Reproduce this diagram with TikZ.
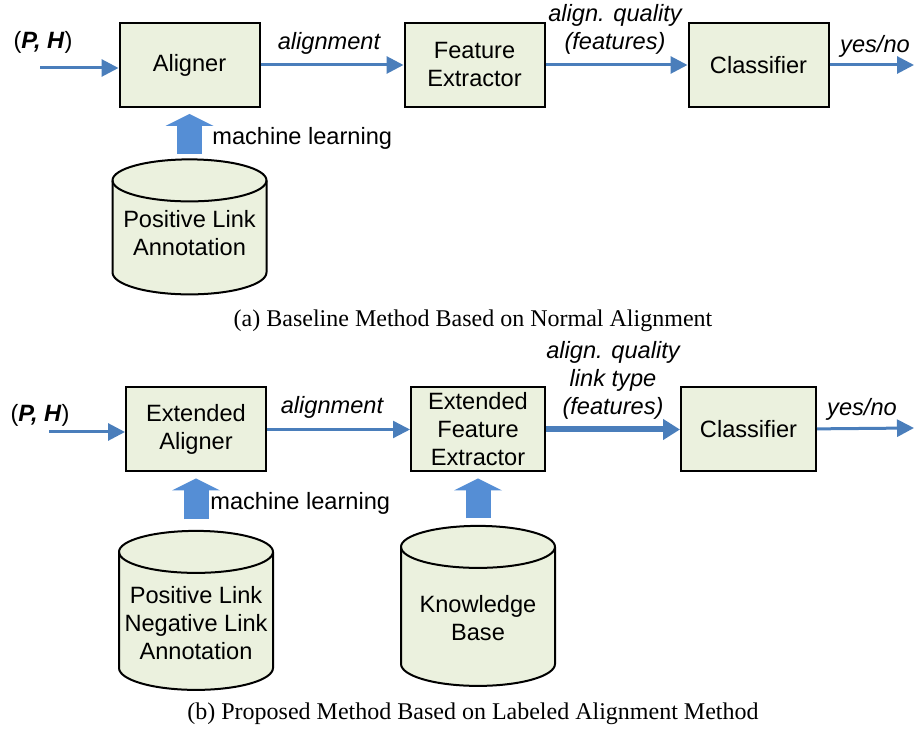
\documentclass[tikz,border=0pt]{standalone}
\usepackage{fontspec}
\setmainfont{Liberation Sans}
\newfontfamily\capfont{Liberation Serif}
\usetikzlibrary{arrows.meta,shapes,positioning,calc}
\definecolor{boxgreen}{HTML}{EBF1DE}
\definecolor{flowblue}{HTML}{4A7EBB}
\definecolor{fatblue}{HTML}{558ED5}
\tikzset{
    block/.style={draw, line width=1pt, fill=boxgreen, minimum width=70pt, minimum height=42pt, align=center, inner sep=1pt},
    db/.style 2 args={minimum width=80pt, minimum height=#1, inner sep=0pt, align=center, fill=white,
        path picture={
            \coordinate (nw) at ($(path picture bounding box.north west)+(1.5pt,-1pt)$);
            \coordinate (se) at ($(path picture bounding box.south east)+(-1.5pt,#2)$);
            \filldraw[line width=1pt, fill=boxgreen] ($(nw)+(0,-10.5pt)$) -- ($(nw |- se)+(0,11pt)$)
                arc[start angle=180, end angle=360, x radius=38.5pt, y radius=11pt]
                -- ($(se |- nw)+(0,-10.5pt)$)
                arc[start angle=0, end angle=180, x radius=38.5pt, y radius=10.5pt] -- cycle;
            \draw[line width=1pt] ($(nw)+(0,-10.5pt)$) arc[start angle=180, end angle=360, x radius=38.5pt, y radius=10.5pt];
        }},
    flow/.style={-{Triangle[length=8.5pt, width=8.5pt]}, line width=1.5pt, flowblue},
    bigflow/.style={-{Triangle[length=8.5pt, width=10pt]}, line width=3pt, flowblue},
    learn/.style={-{Triangle[length=6pt, width=24pt, line width=0pt]}, line width=12.5pt, fatblue},
    lbl/.style={font=\fontsize{11.8}{14}\selectfont\itshape, align=center, inner sep=0pt},
    caption/.style={font=\fontsize{12}{14}\capfont, inner sep=0pt}
}
\begin{document}
\begin{tikzpicture}[x=0.5pt, y=-0.5pt, font=\fontsize{11.8}{14}\selectfont]
    \useasboundingbox (0,0) rectangle (916,731);

    % (a) baseline
    \node[block] (aligner) at (189.5,65) {Aligner};
    \node[block, right=71.5pt of aligner] (feat) {Feature\\Extractor};
    \node[block, right=71pt of feat] (clsA) {Classifier};
    \node[db={76pt}{7.5pt}, below=24.5pt of aligner] (posA) {Positive Link\\Annotation};
    \coordinate (inA) at (40,68);
    \coordinate (outA) at (914,65);

    \node[inner sep=0pt] (phA) at (43,42) {(\textbf{\textit{P, H}})};
    \node[lbl] (alnA) at (329,43) {alignment};
    \node[lbl] (qualA) at (615,29) {align. quality\\(features)};
    \node[lbl] (ynA) at (875,46) {yes/no};
    \node[anchor=west, inner sep=0pt] (mlA) at (212,138) {machine learning};

    \draw[flow] (inA) -- (inA -| aligner.west);
    \draw[flow] (aligner) -- (feat);
    \draw[flow] (feat) -- (clsA);
    \draw[flow] (clsA) -- (outA);
    \draw[learn, shorten <=1.5pt, shorten >=3pt] (posA) -- (aligner);

    \node[caption] (capA) at (473,321) {(a) Baseline Method Based on Normal Alignment};

    % (b) proposed
    \node[block] (extAligner) at (196,429.5) {Extended\\Aligner};
    \node[block, minimum width=67pt, right=71.5pt of extAligner] (extFeat) {Extended\\Feature\\Extractor};
    \node[block, minimum width=67.5pt, right=67pt of extFeat] (clsB) {Classifier};
    \node[db={94pt}{13.5pt}, below=28pt of extAligner] (posNegB) {Positive Link\\Negative Link\\Annotation};
    \node[db={94.5pt}{13.5pt}, below=25.5pt of extFeat] (kb) {Knowledge\\Base};
    \coordinate (inB) at (49,432);
    \coordinate (outB) at (914,428);

    \node[inner sep=0pt] (phB) at (40,415) {(\textbf{\textit{P, H}})};
    \node[lbl] (alnB) at (332,407) {alignment};
    \node[lbl] (qualB) at (613,380) {align. quality\\link type\\(features)};
    \node[lbl] (ynB) at (862,409) {yes/no};
    \node[anchor=west, inner sep=0pt] (mlB) at (210,503) {machine learning};

    \draw[flow] (inB) -- (inB -| extAligner.west);
    \draw[flow, line width=1.2pt] (extAligner) -- (extFeat);
    \draw[bigflow] (extFeat) -- (clsB);
    \draw[flow] (clsB) -- (outB);
    \draw[learn, shorten <=4.5pt, shorten >=3pt] (posNegB) -- (extAligner);
    \draw[learn, shorten <=2.5pt, shorten >=3pt] (kb) -- (extFeat);

    \node[caption] (capB) at (473,714) {(b) Proposed Method Based on Labeled Alignment Method};
\end{tikzpicture}
\end{document}
